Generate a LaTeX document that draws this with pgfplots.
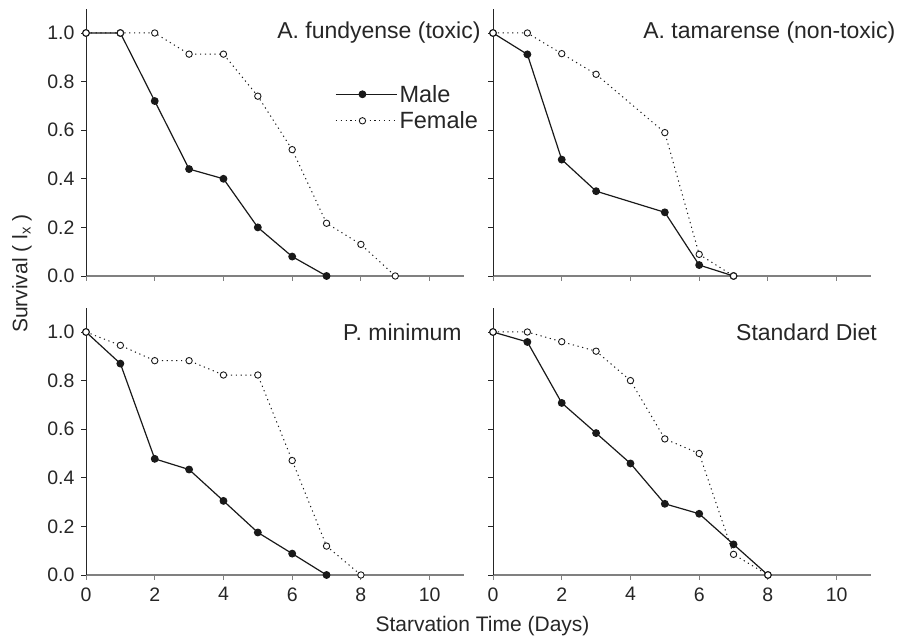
\documentclass[border=0pt]{standalone}
\usepackage{pgfplots}
\pgfplotsset{compat=1.18}
\usepackage{fontspec}
\setmainfont{Liberation Sans}

\pgfplotsset{
  panel/.style={
    scale only axis, width=378pt, height=267.3pt,
    anchor=south west,
    xmin=0, xmax=11, ymin=0, ymax=1.1,
    axis x line*=bottom, axis y line*=left,
    axis line style={-},
    x axis line style={draw=black!50, line width=1.3pt},
    y axis line style={draw=black!85, line width=0.9pt},
    xtick={0,2,4,6,8,10}, ytick={0,0.2,0.4,0.6,0.8,1.0},
    tick align=outside, major tick length=5pt,
    x tick style={black!50, line width=1pt},
    y tick style={black!85, line width=0.8pt},
    tick label style={font=\fontsize{19.5}{23}\selectfont, text=black!85},
    xticklabel style={yshift=-4pt},
    yticklabel style={xshift=-3pt, /pgf/number format/.cd, fixed, fixed zerofill, precision=1},
    /pgf/number format/assume math mode=true,
    clip=false,
  },
  male/.style={black!90, line width=1.2pt, mark=*, mark size=3.3pt},
  female/.style={black!90, line width=1pt, dash pattern=on 1.2pt off 3.6pt,
    mark=*, mark size=3.2pt, mark options={solid, fill=white, line width=0.9pt}},
}
\tikzset{ttl/.style={anchor=west, inner sep=0pt, font=\fontsize{23}{27}\selectfont, text=black!85}}

\begin{document}
\begin{tikzpicture}
\useasboundingbox (0,0) rectangle (899pt,639pt);

% A. fundyense
\begin{axis}[panel, at={(86pt,363pt)}, xticklabels={},
  legend style={at={(axis cs:7.25,0.795)}, anchor=north west, draw=none, fill=none,
    inner sep=0pt, row sep=4pt, font=\fontsize{23.5}{27}\selectfont, text=black!85},
  legend cell align=left,
  legend image code/.code={\path (0pt,0pt) -- (61pt,0pt);
    \draw[#1, mark repeat=2, mark phase=2] plot coordinates {(0pt,0pt) (26.5pt,0pt) (53pt,0pt)};},
]
\addplot[male] coordinates {(0,1) (1,1) (2,0.72) (3,0.44) (4,0.40) (5,0.20) (6,0.08) (7,0)};
\addplot[female] coordinates {(0,1) (1,1) (2,1) (3,0.913) (4,0.913) (5,0.74) (6,0.52) (7,0.217) (8,0.13) (9,0)};
\legend{Male, Female}
\node[ttl] at (axis cs:5.56,1.0) {A. fundyense (toxic)};
\end{axis}

% A. tamarense
\begin{axis}[panel, at={(493pt,363pt)}, xticklabels={}, yticklabels={}]
\addplot[male] coordinates {(0,1) (1,0.912) (2,0.479) (3,0.349) (5,0.262) (6,0.045) (7,0)};
\addplot[female] coordinates {(0,1) (1,1) (2,0.915) (3,0.83) (5,0.59) (6,0.089) (7,0)};
\node[ttl] at (axis cs:4.37,1.0) {A. tamarense (non-toxic)};
\end{axis}

% P. minimum
\begin{axis}[panel, at={(86pt,64pt)}]
\addplot[male] coordinates {(0,1) (1,0.870) (2,0.478) (3,0.434) (4,0.305) (5,0.175) (6,0.088) (7,0)};
\addplot[female] coordinates {(0,1) (1,0.945) (2,0.882) (3,0.882) (4,0.823) (5,0.823) (6,0.471) (7,0.119) (8,0)};
\node[ttl] at (axis cs:7.48,1.0) {P. minimum};
\end{axis}

% Standard diet
\begin{axis}[panel, at={(493pt,64pt)}, yticklabels={}]
\addplot[male] coordinates {(0,1) (1,0.959) (2,0.708) (3,0.584) (4,0.459) (5,0.293) (6,0.252) (7,0.126) (8,0)};
\addplot[female] coordinates {(0,1) (1,1) (2,0.960) (3,0.921) (4,0.80) (5,0.560) (6,0.50) (7,0.085) (8,0)};
\node[ttl] at (axis cs:7.07,1.0) {Standard Diet};
\end{axis}

\node[font=\fontsize{21}{25}\selectfont, text=black!85] at (482.5pt,13pt) {Starvation Time (Days)};
\node[font=\fontsize{21}{25}\selectfont, text=black!85, rotate=90] at (22pt,365.5pt) {Survival ( l\textsubscript{x} )};
\end{tikzpicture}
\end{document}
